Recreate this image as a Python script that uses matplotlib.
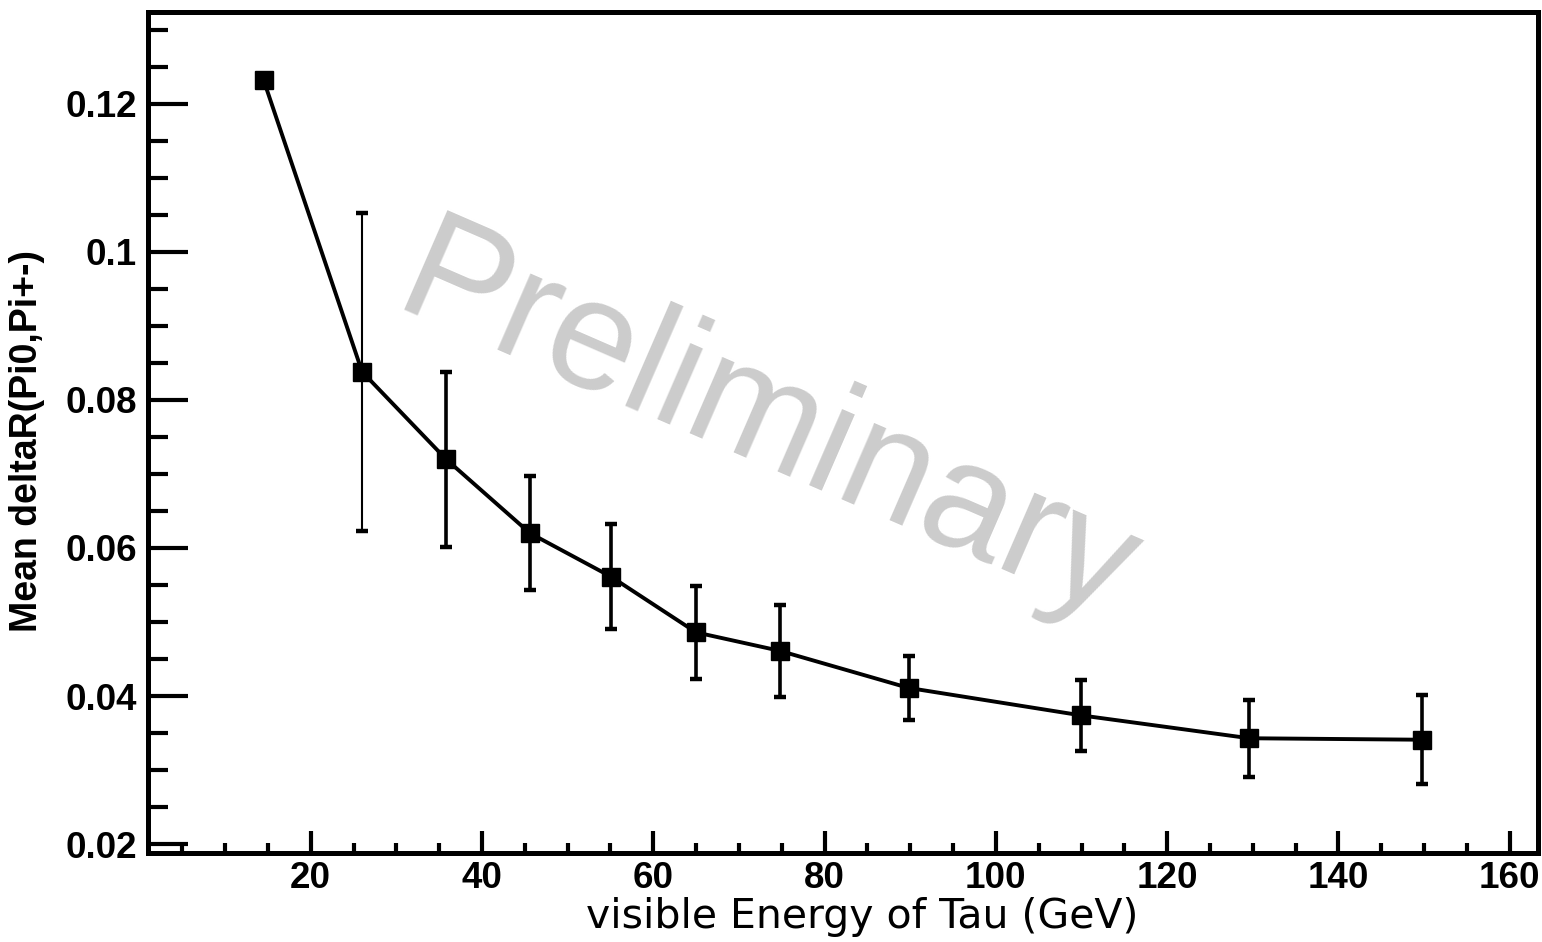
import matplotlib
matplotlib.use("Agg")
import matplotlib.pyplot as plt
from matplotlib.ticker import MultipleLocator, FixedLocator
import numpy as np

# ---- data ----
energy = [14.5, 26.0, 35.8, 45.6, 55.1, 65.0, 74.8, 89.8, 109.9, 129.6, 149.8]
mean_dr = [0.1232, 0.0838, 0.0720, 0.0620, 0.0561, 0.0486, 0.0461, 0.0411, 0.0374, 0.0343, 0.0341]
err_dr = [0.0, 0.0215, 0.0118, 0.0077, 0.0071, 0.0063, 0.0062, 0.0043, 0.0048, 0.0052, 0.0060]
err_lw = [1.5, 1.5, 2.6, 2.6, 2.6, 2.6, 2.6, 2.6, 2.6, 2.6, 2.6]

x_ticks = [20, 40, 60, 80, 100, 120, 140, 160]
y_ticks = [0.02, 0.04, 0.06, 0.08, 0.1, 0.12]
y_tick_labels = ["0.02", "0.04", "0.06", "0.08", "0.1", "0.12"]

xlabel = "visible Energy of Tau (GeV)"
ylabel = "Mean deltaR(Pi0,Pi+-)"
watermark = "Preliminary"

# ---- figure ----
fig = plt.figure(figsize=(15.42, 9.42), dpi=100)
ax = fig.add_axes([148/1542, 1 - 853/942, (1538-148)/1542, (853-12)/942])

ax.plot(energy, mean_dr, color="black", lw=2.8, marker="s", ms=13,
        mfc="black", mec="black", zorder=3)
for xi, yi, ei, lwi in zip(energy, mean_dr, err_dr, err_lw):
    if ei > 0:
        ax.errorbar([xi], [yi], yerr=[ei], fmt="none", ecolor="black",
                    elinewidth=lwi, capsize=4.5, capthick=3.2, zorder=3)

ax.set_xlim(1.0, 163.3)
ax.set_ylim(0.0188, 0.1324)

ax.xaxis.set_major_locator(FixedLocator(x_ticks))
ax.xaxis.set_minor_locator(MultipleLocator(5))
ax.yaxis.set_major_locator(FixedLocator(y_ticks))
ax.set_yticklabels(y_tick_labels)
ax.yaxis.set_minor_locator(MultipleLocator(0.005))

for lab in ax.get_xticklabels() + ax.get_yticklabels():
    lab.set_fontfamily("Liberation Sans")
    lab.set_fontweight("bold")
    lab.set_fontsize(26.5)

ax.tick_params(axis="x", which="major", direction="in", length=16, width=3, pad=6,
               top=False, bottom=True)
ax.tick_params(axis="x", which="minor", direction="in", length=7.5, width=3,
               top=False, bottom=True)
ax.tick_params(axis="y", which="major", direction="in", length=29, width=3, pad=8,
               left=True, right=False)
ax.tick_params(axis="y", which="minor", direction="in", length=14.5, width=3,
               left=True, right=False)

for sp in ax.spines.values():
    sp.set_linewidth(3.6)
    sp.set_color("black")

fig.text(862/1542, 1 - 928/942, xlabel, ha="center", va="baseline",
         fontfamily="DejaVu Sans", fontsize=29.5, color="black")
fig.text(27/1542, 1 - 441/942, ylabel, ha="center", va="center", rotation=90,
         fontfamily="Liberation Sans", fontweight="bold", fontsize=27, color="black")

ax.text(766/1542, 1 - 428/942, watermark, transform=fig.transFigure,
        ha="center", va="center", rotation=-23.5, fontfamily="Liberation Sans",
        fontsize=113, color="#cccccc", zorder=1)

fig.savefig("out.png", dpi=100)
